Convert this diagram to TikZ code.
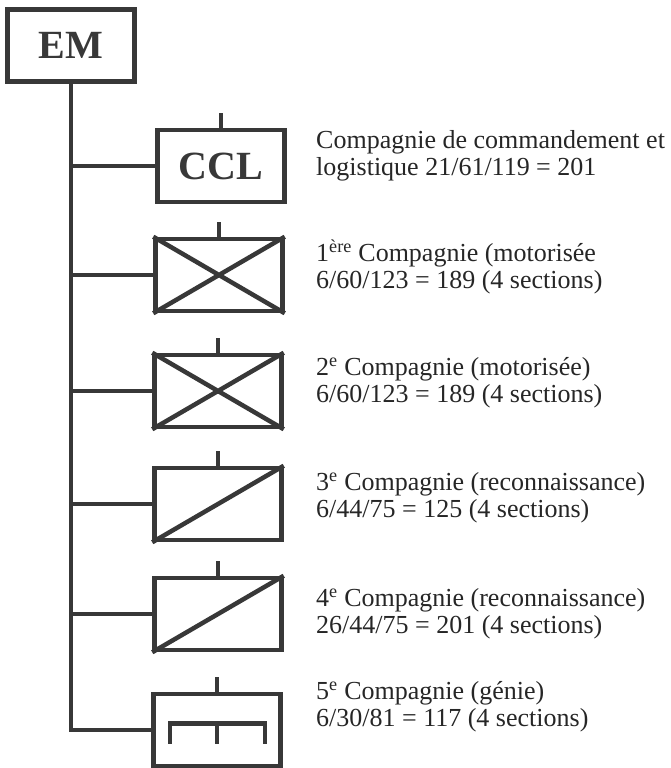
\documentclass[tikz,border=0pt]{standalone}
\usepackage{fontspec}
\setmainfont{Liberation Serif}
\usetikzlibrary{positioning}
\definecolor{ink}{HTML}{383838}
\definecolor{txt}{HTML}{262626}

\tikzset{
  unit/.style={draw=ink, line width=4.5pt, minimum width=127pt, minimum height=72pt, inner sep=0pt},
  big/.style={font=\fontsize{40}{40}\selectfont\bfseries, text=ink},
  link/.style={draw=ink, line width=4pt},
  sign/.style={draw=ink, line width=4.5pt},
  rank/.style={draw=ink, line width=3.5pt},
  info/.style={align=left, anchor=base west, text=txt, inner sep=0pt,
               font=\fontsize{26}{26.5}\selectfont},
}

\begin{document}
\begin{tikzpicture}[x=1pt,y=-1pt]
    \useasboundingbox (0,0) rectangle (670,768);
    % units
    \node [unit, big] (em) at (71,45.5) {EM};
    \node [unit, big] (ccl) at (221,166) {CCL};
    \node [unit] (c1) at (219,275) {};
    \node [unit] (c2) at (218,391) {};
    \node [unit] (c3) at (218,504) {};
    \node [unit] (c4) at (218,614) {};
    \node [unit] (c5) at (217,730) {};
    % company signs
    \draw [sign] (c1.south west) -- (c1.north east) (c1.north west) -- (c1.south east);
    \draw [sign] (c2.south west) -- (c2.north east) (c2.north west) -- (c2.south east);
    \draw [sign] (c3.south west) -- (c3.north east);
    \draw [sign] (c4.south west) -- (c4.north east);
    \draw [sign] ([shift={(-47,13.5)}]c5.center) -- ++(0,-20) -- ++(95,0) -- ++(0,20);
    \draw [sign] ([yshift=6.5pt]c5.center) -- ([yshift=-13.5pt]c5.center);
    \foreach \n in {ccl,c1,c2,c3,c4,c5}
        \draw [rank] (\n.north) -- ++(0,-15);
    % links
    \draw [link] (em.south) |- (c5.west);
    \foreach \n in {ccl,c1,c2,c3,c4}
        \draw [link] (em.south |- \n.west) -- (\n.west);
    % labels (base = last line)
    \node [info] (tccl) at (316,175) {Compagnie de commandement et\\logistique 21/61/119 = 201};
    \node [info] (tc1) at (316,288) {1\textsuperscript{ère} Compagnie (motorisée\\6/60/123 = 189 (4 sections)};
    \node [info] (tc2) at (316,402) {2\textsuperscript{e} Compagnie (motorisée)\\6/60/123 = 189 (4 sections)};
    \node [info] (tc3) at (316,517) {3\textsuperscript{e} Compagnie (reconnaissance)\\6/44/75 = 125 (4 sections)};
    \node [info] (tc4) at (316,633) {4\textsuperscript{e} Compagnie (reconnaissance)\\26/44/75 = 201 (4 sections)};
    \node [info] (tc5) at (316,726) {5\textsuperscript{e} Compagnie (génie)\\6/30/81 = 117 (4 sections)};
\end{tikzpicture}
\end{document}
